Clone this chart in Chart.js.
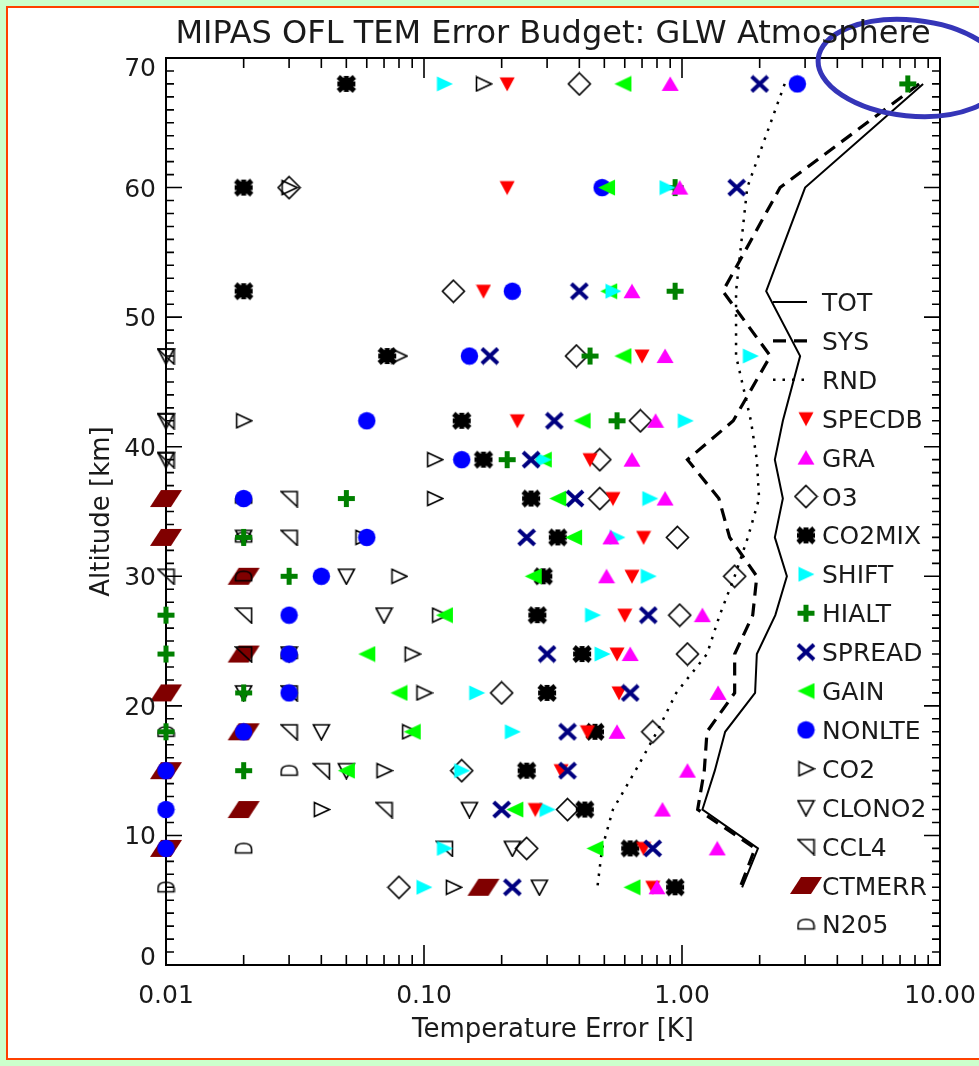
<!DOCTYPE html>
<html>
<head>
<meta charset="utf-8">
<title>MIPAS OFL TEM Error Budget</title>
<script src="https://cdn.jsdelivr.net/npm/chart.js@4.4.1/dist/chart.umd.min.js"></script>
<style>
  html, body { margin: 0; padding: 0; background: #ccffcc; overflow: hidden; }
  #wrap { position: absolute; left: 0; top: 0; width: 979px; height: 1066px; }
</style>
</head>
<body>
<div id="wrap"><canvas id="canvas-chart"></canvas></div>
<script>
// Altitude levels (km) and temperature error (K) per error source
const altitudes = [68, 60, 52, 47, 42, 39, 36, 33, 30, 27, 24, 21, 18, 15, 12, 9, 6];

const tot = [8.6, 3.0, 2.12, 2.87, 2.46, 2.29, 2.46, 2.29, 2.55, 2.3, 1.95, 1.92, 1.47, 1.34, 1.2, 1.97, 1.71];
const sys = [8.3, 2.4, 1.44, 2.2, 1.58, 1.05, 1.39, 1.53, 1.95, 1.88, 1.6, 1.6, 1.25, 1.22, 1.15, 1.92, 1.68];
const rnd = [2.5, 1.79, 1.62, 1.62, 1.85, 1.95, 1.99, 1.8, 1.6, 1.4, 1.25, 0.95, 0.8, 0.66, 0.54, 0.49, 0.47];

const specdb = [0.21, 0.21, 0.17, 0.70, 0.23, 0.44, 0.54, 0.71, 0.64, 0.60, 0.56, 0.57, 0.43, 0.34, 0.27, 0.71, 0.77];
const gra = [0.90, 0.98, 0.64, 0.86, 0.79, 0.64, 0.86, 0.53, 0.51, 1.2, 0.63, 1.38, 0.56, 1.05, 0.84, 1.37, 0.80];
const o3 = [0.40, 0.03, 0.13, 0.39, 0.69, 0.48, 0.48, 0.96, 1.6, 0.98, 1.05, 0.20, 0.77, 0.14, 0.36, 0.25, 0.08];
const co2mix = [0.05, 0.02, 0.02, 0.072, 0.14, 0.17, 0.26, 0.33, 0.29, 0.275, 0.41, 0.30, 0.46, 0.25, 0.42, 0.63, 0.94];
const shift = [0.12, 0.875, 0.54, 1.84, 1.03, 0.29, 0.75, 0.56, 0.74, 0.45, 0.49, 0.16, 0.22, 0.14, 0.30, 0.12, 0.10];
const hialt = [7.5, 0.94, 0.94, 0.44, 0.56, 0.21, 0.05, 0.02, 0.03, 0.01, 0.01, 0.02, 0.01, 0.02, null, null, null];
const spread = [2.0, 1.63, 0.40, 0.18, 0.32, 0.26, 0.385, 0.25, null, 0.74, 0.30, 0.63, 0.36, 0.36, 0.20, 0.77, 0.22];
const gain = [0.59, 0.51, 0.52, 0.59, 0.41, 0.29, 0.33, 0.38, 0.265, 0.12, 0.06, 0.08, 0.09, 0.05, 0.225, 0.46, 0.64];
const nonlte = [2.8, 0.49, 0.22, 0.15, 0.06, 0.14, 0.02, 0.06, 0.04, 0.03, 0.03, 0.03, 0.02, 0.01, 0.01, 0.01, null];
const co2 = [0.17, 0.03, null, 0.08, 0.02, 0.11, 0.11, 0.058, 0.08, 0.115, 0.09, 0.10, 0.088, 0.07, 0.04, null, 0.13];
const clono2 = [null, null, null, 0.01, 0.01, 0.01, null, 0.02, 0.05, 0.07, 0.03, 0.02, 0.04, 0.05, 0.15, 0.22, 0.28];
const ccl4 = [null, null, null, 0.01, 0.01, 0.01, 0.03, 0.03, 0.01, 0.02, 0.02, 0.03, 0.03, 0.04, 0.07, 0.12, null];
const ctmerr = [null, null, null, null, null, null, 0.01, 0.01, 0.02, null, 0.02, 0.01, 0.02, 0.01, 0.02, 0.01, 0.17];
const n205 = [null, null, null, null, null, null, 0.02, 0.02, 0.02, null, 0.03, null, 0.01, 0.03, null, 0.02, 0.01];

// Axis ticks
const xTickValues = [0.01, 0.1, 1, 10];
const xTickLabels = ["0.01", "0.10", "1.00", "10.00"];
const yTickValues = [0, 10, 20, 30, 40, 50, 60, 70];

const FONT = '"DejaVu Sans", sans-serif';
const TEXT_COLOR = "#1a1a1a";

// Builds a small canvas used as point symbol
const makeMarker = (w, h, draw) => {
  const c = document.createElement("canvas");
  c.width = w;
  c.height = h;
  const g = c.getContext("2d");
  g.translate(w / 2, h / 2);
  draw(g);
  return c;
};

const poly = (g, pts) => {
  g.beginPath();
  g.moveTo(pts[0][0], pts[0][1]);
  pts.slice(1).forEach((p) => g.lineTo(p[0], p[1]));
  g.closePath();
};

const filled = (color, pts) => (g) => {
  poly(g, pts);
  g.fillStyle = color;
  g.fill();
};

const outlined = (pts) => (g) => {
  poly(g, pts);
  g.strokeStyle = "#000";
  g.lineWidth = 1.6;
  g.stroke();
};

const markers = {
  specdb: makeMarker(16, 16, filled("#ff0000", [[-7.5, -6.5], [7.5, -6.5], [0, 7.5]])),
  gra: makeMarker(18, 16, filled("#ff00ff", [[-8.5, 7], [8.5, 7], [0, -7.5]])),
  o3: makeMarker(25, 25, outlined([[0, -11], [11, 0], [0, 11], [-11, 0]])),
  co2mix: makeMarker(22, 20, (g) => {
    g.strokeStyle = "#000";
    g.fillStyle = "#000";
    g.lineWidth = 5;
    g.beginPath();
    g.moveTo(-8, -7); g.lineTo(8, 7);
    g.moveTo(-8, 7); g.lineTo(8, -7);
    g.moveTo(-9, 0); g.lineTo(9, 0);
    g.moveTo(0, -8); g.lineTo(0, 8);
    g.stroke();
    g.fillRect(-6, -6, 12, 12);
  }),
  shift: makeMarker(18, 16, filled("#00ffff", [[-7.5, -7.5], [8.5, 0], [-7.5, 7.5]])),
  hialt: makeMarker(19, 19, (g) => {
    g.strokeStyle = "#008000";
    g.lineWidth = 5;
    g.beginPath();
    g.moveTo(-8.5, 0); g.lineTo(8.5, 0);
    g.moveTo(0, -8.5); g.lineTo(0, 8.5);
    g.stroke();
  }),
  spread: makeMarker(20, 19, (g) => {
    g.strokeStyle = "#000080";
    g.lineWidth = 4;
    g.beginPath();
    g.moveTo(-8, -7.5); g.lineTo(8, 7.5);
    g.moveTo(-8, 7.5); g.lineTo(8, -7.5);
    g.stroke();
  }),
  gain: makeMarker(19, 17, filled("#00ff00", [[8.5, -8], [-8.5, 0], [8.5, 8]])),
  nonlte: makeMarker(19, 19, (g) => {
    g.beginPath();
    g.arc(0, 0, 8.7, 0, Math.PI * 2);
    g.fillStyle = "#0000ff";
    g.fill();
  }),
  co2: makeMarker(19, 17, outlined([[-7, -7], [8, 0], [-7, 7]])),
  clono2: makeMarker(19, 18, outlined([[-8, -7], [8, -7], [0, 8]])),
  ccl4: makeMarker(19, 18, outlined([[-8, -7], [8, -7], [8, 8]])),
  ctmerr: makeMarker(34, 19, filled("#800000", [[-16, 8.5], [-5, -8.5], [16, -8.5], [5, 8.5]])),
  n205: makeMarker(19, 14, (g) => {
    g.beginPath();
    g.moveTo(-8, 4.5);
    g.lineTo(-8, 1);
    g.quadraticCurveTo(-8, -5, 0, -5);
    g.quadraticCurveTo(8, -5, 8, 1);
    g.lineTo(8, 4.5);
    g.closePath();
    g.strokeStyle = "#000";
    g.lineWidth = 1.6;
    g.stroke();
  }),
};

// Error budget lines
const lineSeries = [
  { label: "TOT", values: tot, width: 2, dash: [] },
  { label: "SYS", values: sys, width: 3.2, dash: [13, 8] },
  { label: "RND", values: rnd, width: 2.5, dash: [2.5, 7] },
];

// Individual error sources, listed in legend order
const pointSeries = [
  { label: "SPECDB", values: specdb, marker: markers.specdb },
  { label: "GRA", values: gra, marker: markers.gra },
  { label: "O3", values: o3, marker: markers.o3 },
  { label: "CO2MIX", values: co2mix, marker: markers.co2mix },
  { label: "SHIFT", values: shift, marker: markers.shift },
  { label: "HIALT", values: hialt, marker: markers.hialt },
  { label: "SPREAD", values: spread, marker: markers.spread },
  { label: "GAIN", values: gain, marker: markers.gain },
  { label: "NONLTE", values: nonlte, marker: markers.nonlte },
  { label: "CO2", values: co2, marker: markers.co2 },
  { label: "CLONO2", values: clono2, marker: markers.clono2 },
  { label: "CCL4", values: ccl4, marker: markers.ccl4 },
  { label: "CTMERR", values: ctmerr, marker: markers.ctmerr },
  { label: "N205", values: n205, marker: markers.n205 },
];

// Which symbols end up on top when they overlap (bottom first)
const drawOrder = ["CTMERR", "CCL4", "CLONO2", "N205", "CO2", "CO2MIX", "O3", "NONLTE",
  "GAIN", "HIALT", "SHIFT", "SPECDB", "GRA", "SPREAD"];

const toPoints = (values) =>
  altitudes
    .map((alt, i) => ({ x: values[i], y: alt }))
    .filter((p) => p.x !== null);

const datasets = [
  ...lineSeries.map((s) => ({
    label: s.label,
    data: toPoints(s.values),
    showLine: true,
    borderColor: "#000",
    borderWidth: s.width,
    borderDash: s.dash,
    pointRadius: 0,
    tension: 0,
    clip: false,
    order: 100,
  })),
  ...pointSeries.map((s) => ({
    label: s.label,
    data: toPoints(s.values),
    showLine: false,
    pointStyle: s.marker,
    clip: false,
    order: 50 - drawOrder.indexOf(s.label),
  })),
];

// Page background, frame with inward ticks, legend and labels
const frame = {
  id: "frame",
  beforeDraw(chart) {
    const { ctx, width, height } = chart;
    ctx.save();
    ctx.fillStyle = "#ccffcc";
    ctx.fillRect(0, 0, width, height);
    ctx.fillStyle = "#ff4000";
    ctx.fillRect(6, 6, width, height - 12);
    ctx.fillStyle = "#fff";
    ctx.fillRect(8, 8, width, height - 16);
    ctx.restore();
  },
  beforeDatasetsDraw(chart) {
    const { ctx, chartArea: a, scales } = chart;
    const xs = scales.x;
    const ys = scales.y;
    ctx.save();
    ctx.strokeStyle = "#000";
    ctx.lineWidth = 2;
    ctx.strokeRect(a.left, a.top, a.right - a.left, a.bottom - a.top);
    ctx.lineWidth = 1.6;
    ctx.beginPath();
    xTickValues.forEach((d, i) => {
      const px = xs.getPixelForValue(d);
      ctx.moveTo(px, a.bottom); ctx.lineTo(px, a.bottom - 20);
      ctx.moveTo(px, a.top); ctx.lineTo(px, a.top + 20);
      if (i < xTickValues.length - 1) {
        for (let k = 2; k <= 9; k++) {
          const mx = xs.getPixelForValue(d * k);
          ctx.moveTo(mx, a.bottom); ctx.lineTo(mx, a.bottom - 10);
          ctx.moveTo(mx, a.top); ctx.lineTo(mx, a.top + 10);
        }
      }
    });
    for (let km = ys.min; km <= ys.max; km++) {
      const py = ys.getPixelForValue(km);
      const len = km % 10 === 0 ? 16 : 8;
      ctx.moveTo(a.left, py); ctx.lineTo(a.left + len, py);
      ctx.moveTo(a.right, py); ctx.lineTo(a.right - len, py);
    }
    ctx.stroke();
    ctx.restore();
  },
  afterDatasetsDraw(chart) {
    const { ctx, chartArea: a, scales } = chart;
    ctx.save();
    // Legend inside the plot, right side
    const symX = a.right - 134;
    const textX = a.right - 118;
    const top = a.top + 244;
    const step = 38.9;
    ctx.fillStyle = TEXT_COLOR;
    ctx.font = "25px " + FONT;
    ctx.textAlign = "left";
    lineSeries.forEach((s, i) => {
      const y = top + i * step;
      ctx.strokeStyle = "#000";
      ctx.lineWidth = s.width;
      ctx.setLineDash(s.dash);
      ctx.beginPath();
      ctx.moveTo(symX - 33, y);
      ctx.lineTo(symX + 1, y);
      ctx.stroke();
      ctx.setLineDash([]);
      ctx.fillText(s.label, textX, y + 9);
    });
    pointSeries.forEach((s, i) => {
      const y = top + (i + lineSeries.length) * step;
      const m = s.marker;
      ctx.drawImage(m, symX - m.width / 2, y - m.height / 2);
      ctx.fillText(s.label, textX, y + 9);
    });
    // Blue ring around the topmost HIALT value
    const cx = scales.x.getPixelForValue(hialt[0]);
    const cy = scales.y.getPixelForValue(altitudes[0]) - 16;
    ctx.strokeStyle = "#3535b8";
    ctx.lineWidth = 5;
    ctx.beginPath();
    ctx.ellipse(cx + 3, cy, 93, 48, 0.1, 0, Math.PI * 2);
    ctx.stroke();
    ctx.restore();
  },
  afterDraw(chart) {
    const { ctx, chartArea: a, scales } = chart;
    const midX = (a.left + a.right) / 2;
    ctx.save();
    ctx.fillStyle = TEXT_COLOR;
    ctx.textAlign = "center";
    ctx.textBaseline = "alphabetic";
    ctx.font = "32px " + FONT;
    ctx.fillText("MIPAS OFL TEM Error Budget: GLW Atmosphere", midX, 43);

    ctx.font = "25px " + FONT;
    xTickValues.forEach((v, i) => {
      ctx.fillText(xTickLabels[i], scales.x.getPixelForValue(v), a.bottom + 38);
    });
    ctx.textAlign = "right";
    yTickValues.forEach((v) => {
      const py = scales.y.getPixelForValue(v);
      const cy = Math.min(Math.max(py, a.top + 9), a.bottom - 9);
      ctx.fillText(String(v), a.left - 10, cy + 9);
    });

    ctx.textAlign = "center";
    ctx.font = "26px " + FONT;
    ctx.fillText("Temperature Error [K]", midX, a.bottom + 72);
    ctx.translate(a.left - 57, (a.top + a.bottom) / 2);
    ctx.rotate(-Math.PI / 2);
    ctx.fillText("Altitude [km]", 0, 0);
    ctx.restore();
  },
};

const chart = new Chart(document.getElementById("canvas-chart"), {
  type: "scatter",
  data: { datasets },
  options: {
    responsive: true,
    maintainAspectRatio: false,
    devicePixelRatio: 1,
    animation: false,
    events: [],
    layout: { padding: { left: 166, top: 58, right: 39, bottom: 101 } },
    scales: {
      x: { type: "logarithmic", min: 0.01, max: 10, display: false },
      y: { type: "linear", min: 0, max: 70, display: false },
    },
    plugins: {
      legend: { display: false },
      title: { display: false },
      tooltip: { enabled: false },
    },
  },
  plugins: [frame],
});
</script>
</body>
</html>
